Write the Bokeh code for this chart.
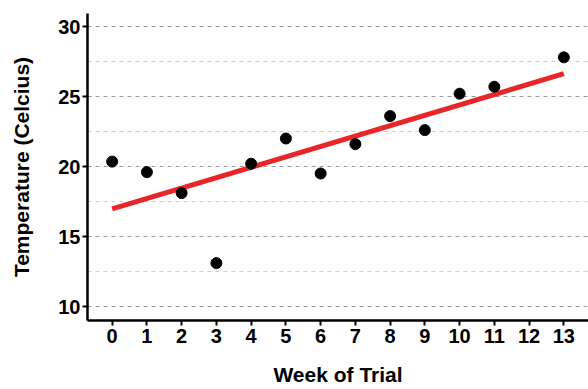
import numpy as np
from bokeh.plotting import figure
from bokeh.models import Range1d, FixedTicker
from bokeh.embed import file_html
from bokeh.resources import INLINE

weeks = [0, 1, 2, 3, 4, 5, 6, 7, 8, 9, 10, 11, 13]
temps = [20.35, 19.6, 18.1, 13.1, 20.2, 22.0, 19.5, 21.6, 23.6, 22.6, 25.2, 25.7, 27.8]
x_ticks = list(range(0, 14))
y_ticks = [10, 15, 20, 25, 30]
y_minor = [12.5, 17.5, 22.5, 27.5]

slope, intercept = np.polyfit(weeks, temps, 1)
fit_x = [min(weeks), max(weeks)]
fit_y = [intercept + slope * v for v in fit_x]

FONT = "Liberation Sans"

p = figure(width=588, height=389, output_backend="svg", toolbar_location=None,
           x_range=Range1d(-0.71, 13.71), y_range=Range1d(9.0, 30.93),
           min_border_left=87, min_border_right=0, min_border_top=13, min_border_bottom=69,
           x_axis_label="Week of Trial", y_axis_label="Temperature (Celcius)")
p.outline_line_color = None
p.background_fill_color = "white"

p.xgrid.grid_line_color = None
p.ygrid.grid_line_color = "#9a9a9a"
p.ygrid.grid_line_dash = "4 4"
p.ygrid.grid_line_width = 1
p.ygrid.minor_grid_line_color = "#cfcfcf"
p.ygrid.minor_grid_line_dash = "4 4"
p.ygrid.minor_grid_line_width = 1

p.xaxis.ticker = FixedTicker(ticks=x_ticks)
p.yaxis.ticker = FixedTicker(ticks=y_ticks, minor_ticks=y_minor)

for ax in (p.xaxis[0], p.yaxis[0]):
    ax.axis_line_width = 2.5
    ax.axis_line_color = "black"
    ax.major_tick_line_width = 2
    ax.major_tick_line_color = "black"
    ax.major_tick_out = 5
    ax.major_tick_in = 0
    ax.minor_tick_line_color = None
    ax.major_label_text_font = FONT
    ax.major_label_text_font_style = "bold"
    ax.major_label_text_font_size = "20px"
    ax.major_label_text_color = "black"
    ax.axis_label_text_font = FONT
    ax.axis_label_text_font_style = "bold"
    ax.axis_label_text_font_size = "21px"
    ax.axis_label_text_color = "black"

p.xaxis.major_label_standoff = 3
p.xaxis.axis_label_standoff = 17
p.yaxis.major_label_standoff = 2
p.yaxis.axis_label_standoff = 22

p.line(fit_x, fit_y, line_color="#e8262a", line_width=5)
p.scatter(weeks, temps, size=11, fill_color="black", line_color="black")

open("out.html", "w").write(file_html(p, INLINE))
